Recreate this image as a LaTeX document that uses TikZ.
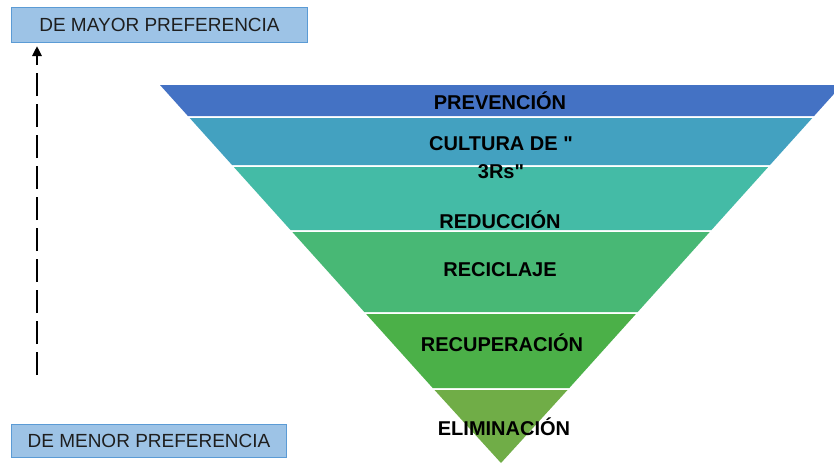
\documentclass[tikz,border=0pt]{standalone}
\usepackage{fontspec}
\setmainfont{Liberation Sans}[Ligatures=TeXOff]
\usetikzlibrary{arrows.meta}
\definecolor{bandA}{RGB}{68,114,196}
\definecolor{bandB}{RGB}{67,161,192}
\definecolor{bandC}{RGB}{68,187,166}
\definecolor{bandD}{RGB}{72,184,117}
\definecolor{bandE}{RGB}{75,176,72}
\definecolor{bandF}{RGB}{112,173,71}
\definecolor{boxfill}{RGB}{157,195,230}
\definecolor{boxline}{RGB}{91,155,213}
\definecolor{boxtext}{RGB}{30,30,30}
\tikzset{
  lvl/.style={font=\fontsize{20}{28}\selectfont\bfseries, text=black, align=center, inner sep=0pt},
  prefbox/.style={draw=boxline, line width=1pt, fill=boxfill, text=boxtext,
    font=\fontsize{19}{22}\selectfont, inner sep=0pt, anchor=north west},
  prefarrow/.style={line width=2.8pt, dash pattern=on 23pt off 8pt, -{Triangle[length=10pt,width=9pt]}}
}
\begin{document}
\begin{tikzpicture}[x=1pt,y=-1pt]
\useasboundingbox (0,0) rectangle (834,463);
\begin{scope}
\clip (0,0) rectangle (834,463);
% bands of the inverted pyramid
\fill[bandA] (160,85) -- (842,85) -- (814.1,116) -- (187.9,116) -- cycle;
\fill[bandB] (189.7,118) -- (812.3,118) -- (770,165) -- (232,165) -- cycle;
\fill[bandC] (233.8,167) -- (768.2,167) -- (711.5,230) -- (290.5,230) -- cycle;
\fill[bandD] (292.3,232) -- (709.7,232) -- (637.7,312) -- (364.3,312) -- cycle;
\fill[bandE] (366.1,314) -- (635.9,314) -- (569.3,388) -- (432.7,388) -- cycle;
\fill[bandF] (434.5,390) -- (567.5,390) -- (501,463) -- cycle;
\end{scope}
% labels
\node[lvl] (prev) at (500,101) {PREVENCIÓN};
\node[lvl, anchor=base] (cult) at (501,178) {CULTURA DE "\\3Rs"};
\node[lvl] (redu) at (500,220) {REDUCCIÓN};
\node[lvl] (reci) at (500,270) {RECICLAJE};
\node[lvl] (recu) at (502,343) {RECUPERACIÓN};
\node[lvl] (elim) at (504,427) {ELIMINACIÓN};
% preference boxes
\node[prefbox, minimum width=296pt, minimum height=35pt] (mayor) at (11,7) {DE MAYOR PREFERENCIA};
\node[prefbox, minimum width=275pt, minimum height=33pt] (menor) at (11,424) {DE MENOR PREFERENCIA};
% dashed arrow
\coordinate (arrS) at (37,375);
\coordinate (arrE) at (37,46);
\draw[prefarrow] (arrS) -- (arrE);
\end{tikzpicture}
\end{document}
